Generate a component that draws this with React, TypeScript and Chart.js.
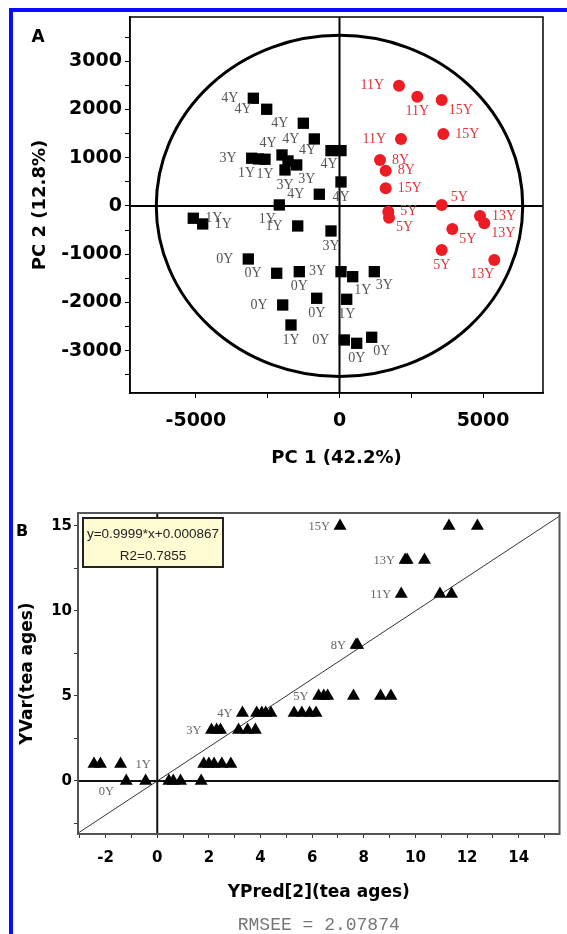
import React, { useEffect, useRef } from "react";
import { Chart, registerables } from "chart.js";

Chart.register(...registerables);

// ---------------- Panel A : PCA score plot ----------------
const pcaBlackPC1 = [-3001, -2535, -1260, -877, -296, 52, 52, -703, -3057, -2820, -2594, -2002, -1793, -1898, -1490, -2096, -5091, -4763, -1455, -296, -3176, -2187, -1400, 52, 460, 1212, -1978, -794, 251, -1689, 167, 599, 1121];
const pcaBlackPC2 = [2234, 2006, 1716, 1390, 1148, 1148, 498, 243, 990, 975, 969, 1058, 934, 747, 851, 21, -255, -373, -415, -519, -1100, -1396, -1363, -1363, -1467, -1363, -2054, -1915, -1936, -2469, -2780, -2849, -2724];
const pcaBlackAge = ["4Y", "4Y", "4Y", "4Y", "4Y", "4Y", "4Y", "4Y", "3Y", "1Y", "1Y", "4Y", "", "3Y", "3Y", "1Y", "1Y", "1Y", "1Y", "3Y", "0Y", "0Y", "0Y", "3Y", "1Y", "3Y", "0Y", "0Y", "1Y", "1Y", "0Y", "0Y", "0Y"];
const pcaBlackSide = ["L", "L", "L", "L", "L", "BL", "B", "L", "L", "BL", "B", "TL", "", "B", "BR", "BL", "R", "R", "L", "B", "L", "L", "B", "L", "BR", "BR", "L", "B", "B", "B", "L", "B", "BR"];

const pcaRedPC1 = [2072, 2709, 3559, 2141, 3614, 1410, 1609, 1609, 3559, 1699, 1724, 4892, 5042, 3928, 3559, 5390];
const pcaRedPC2 = [2496, 2268, 2199, 1390, 1494, 954, 732, 367, 21, -118, -243, -207, -359, -477, -913, -1120];
const pcaRedAge = ["11Y", "11Y", "15Y", "11Y", "15Y", "8Y", "8Y", "15Y", "5Y", "5Y", "5Y", "13Y", "13Y", "5Y", "5Y", "13Y"];
const pcaRedSide = ["L", "B", "RB", "L", "R", "R", "R", "R", "RT", "R", "RB", "R", "RB", "RB", "B", "BL"];

const pcaXRange = [-7295, 7086];
const pcaYRange = [-3880, 3920];
const pcaXTicks = [-5000, -2500, 0, 2500, 5000];
const pcaXTickLabels = [-5000, 0, 5000];
const pcaYTicks = [-3500, -3000, -2500, -2000, -1500, -1000, -500, 0, 500, 1000, 1500, 2000, 2500, 3000, 3500];
const pcaYTickLabels = [-3000, -2000, -1000, 0, 1000, 2000, 3000];
const pcaEllipseRadii = [6380, 3540];

// ---------------- Panel B : PLS predicted vs. measured ----------------
const plsPred = [7.08, 11.3, 12.4, 9.6, 9.68, 10.35, 9.45, 10.95, 11.4, 7.7, 7.76, 6.25, 6.45, 6.6, 7.6, 8.65, 9.05, 3.3, 3.85, 4.05, 4.2, 4.4, 5.3, 5.6, 5.9, 6.15, 2.1, 2.3, 2.45, 3.15, 3.5, 3.8, -2.45, -2.2, -1.42, 1.8, 2.0, 2.2, 2.5, 2.85, -1.2, -0.45, 0.45, 0.62, 0.9, 1.7];
const plsVar = [15, 15, 15, 13, 13, 13, 11, 11, 11, 8, 8, 5, 5, 5, 5, 5, 5, 4, 4, 4, 4, 4, 4, 4, 4, 4, 3, 3, 3, 3, 3, 3, 1, 1, 1, 1, 1, 1, 1, 1, 0, 0, 0, 0, 0, 0];
const plsLabelIndex = [0, 3, 6, 9, 11, 17, 26, 34, 40];
const plsLabelText = ["15Y", "13Y", "11Y", "8Y", "5Y", "4Y", "3Y", "1Y", "0Y"];
const plsLabelSide = ["L", "L", "L", "L", "L", "L", "L", "R", "BL"];

const plsXRange = [-3.07, 15.58];
const plsYRange = [-3.12, 15.76];
const plsXTicks = [-3, -2, -1, 0, 1, 2, 3, 4, 5, 6, 7, 8, 9, 10, 11, 12, 13, 14, 15];
const plsXTickLabels = [-2, 0, 2, 4, 6, 8, 10, 12, 14];
const plsYTicks = [-2.5, 0, 2.5, 5, 7.5, 10, 12.5, 15];
const plsYTickLabels = [0, 5, 10, 15];
const fitSlope = 0.9999;
const fitIntercept = 0.000867;
const fitR2 = 0.7855;
const rmsee = 2.07874;

// ---------------- styling ----------------
const BOLD = "DejaVu Sans";
const SERIF = "'Liberation Serif', 'DejaVu Serif', serif";

const offA: Record<string, [number, number, CanvasTextAlign]> = {
  L: [-15, 0, "right"],
  R: [12, 0, "left"],
  B: [0, 15, "center"],
  BL: [-12, 14, "center"],
  BR: [10, 14, "center"],
  TL: [-14, -12, "center"],
  RB: [7, 10, "left"],
  RT: [9, -8, "left"],
};
const offB: Record<string, [number, number, CanvasTextAlign]> = {
  L: [-10, 1, "right"],
  R: [15, 1, "left"],
  BL: [-20, 11, "center"],
};

const pcaPlugin = {
  id: "pcaDecor",
  beforeDatasetsDraw(chart: any) {
    const { ctx, chartArea: a, scales } = chart;
    const x = scales.x, y = scales.y;
    const cx = x.getPixelForValue(0), cy = y.getPixelForValue(0);
    const rx = x.getPixelForValue(pcaEllipseRadii[0]) - cx;
    const ry = cy - y.getPixelForValue(pcaEllipseRadii[1]);
    ctx.save();
    ctx.strokeStyle = "#000";
    ctx.lineWidth = 3;
    ctx.beginPath();
    ctx.ellipse(cx, cy, rx, ry, 0, 0, Math.PI * 2);
    ctx.stroke();
    ctx.lineWidth = 2;
    ctx.beginPath();
    ctx.moveTo(cx, a.top);
    ctx.lineTo(cx, a.bottom);
    ctx.moveTo(a.left, cy);
    ctx.lineTo(a.right, cy);
    ctx.stroke();
    ctx.lineWidth = 1.5;
    ctx.strokeRect(a.left, a.top, a.right - a.left, a.bottom - a.top);
    ctx.restore();
  },
  afterDatasetsDraw(chart: any) {
    const { ctx } = chart;
    ctx.save();
    ctx.font = `14px ${SERIF}`;
    ctx.textBaseline = "middle";
    const draw = (di: number, texts: string[], sides: string[], color: string) => {
      const meta = chart.getDatasetMeta(di);
      ctx.fillStyle = color;
      texts.forEach((t, i) => {
        if (!t || !sides[i]) return;
        const o = offA[sides[i]];
        const p = meta.data[i];
        ctx.textAlign = o[2];
        ctx.fillText(t, p.x + o[0], p.y + o[1]);
      });
    };
    draw(0, pcaBlackAge, pcaBlackSide, "#555");
    draw(1, pcaRedAge, pcaRedSide, "#e2343c");
    ctx.restore();
  },
  afterDraw(chart: any) {
    const { ctx } = chart;
    ctx.save();
    ctx.fillStyle = "#000";
    ctx.font = `bold 17px ${BOLD}`;
    ctx.textAlign = "center";
    ctx.textBaseline = "middle";
    ctx.fillText("A", 38, 38);
    ctx.restore();
  },
};

const plsPlugin = {
  id: "plsDecor",
  beforeDatasetsDraw(chart: any) {
    const { ctx, chartArea: a, scales } = chart;
    const x = scales.x, y = scales.y;
    const cx = x.getPixelForValue(0), cy = y.getPixelForValue(0);
    ctx.save();
    ctx.beginPath();
    ctx.rect(a.left, a.top, a.right - a.left, a.bottom - a.top);
    ctx.clip();
    ctx.strokeStyle = "#333";
    ctx.lineWidth = 1;
    ctx.beginPath();
    ctx.moveTo(a.left, y.getPixelForValue(fitSlope * plsXRange[0] + fitIntercept));
    ctx.lineTo(a.right, y.getPixelForValue(fitSlope * plsXRange[1] + fitIntercept));
    ctx.stroke();
    ctx.strokeStyle = "#111";
    ctx.lineWidth = 2;
    ctx.beginPath();
    ctx.moveTo(cx, a.top);
    ctx.lineTo(cx, a.bottom);
    ctx.moveTo(a.left, cy);
    ctx.lineTo(a.right, cy);
    ctx.stroke();
    ctx.restore();
    ctx.save();
    ctx.strokeStyle = "#555";
    ctx.lineWidth = 2;
    ctx.strokeRect(a.left, a.top, a.right - a.left, a.bottom - a.top);
    ctx.restore();
  },
  afterDatasetsDraw(chart: any) {
    const { ctx, chartArea: a } = chart;
    ctx.save();
    // point labels
    ctx.font = `12.5px ${SERIF}`;
    ctx.fillStyle = "#666";
    ctx.textBaseline = "middle";
    const meta = chart.getDatasetMeta(0);
    plsLabelIndex.forEach((idx, k) => {
      const p = meta.data[idx];
      const o = offB[plsLabelSide[k]];
      ctx.textAlign = o[2];
      ctx.fillText(plsLabelText[k], p.x + o[0], p.y + o[1]);
    });
    // regression legend box
    const bx = a.left + 5, by = a.top + 5, bw = 140, bh = 49;
    ctx.fillStyle = "#fffbd2";
    ctx.fillRect(bx, by, bw, bh);
    ctx.strokeStyle = "#222";
    ctx.lineWidth = 2;
    ctx.strokeRect(bx, by, bw, bh);
    ctx.fillStyle = "#222";
    ctx.font = "13.5px 'Liberation Sans', Arial, sans-serif";
    ctx.textAlign = "center";
    ctx.fillText(`y=${fitSlope}*x+${fitIntercept}`, bx + bw / 2, by + 16);
    ctx.fillText(`R2=${fitR2}`, bx + bw / 2, by + 38);
    ctx.restore();
  },
  afterDraw(chart: any) {
    const { ctx, chartArea: a } = chart;
    ctx.save();
    ctx.fillStyle = "#000";
    ctx.font = `bold 16px ${BOLD}`;
    ctx.textAlign = "center";
    ctx.textBaseline = "middle";
    ctx.fillText("B", 22, 42);
    ctx.fillStyle = "#777";
    ctx.font = "18px 'Liberation Mono', 'DejaVu Sans Mono', monospace";
    ctx.fillText(`RMSEE = ${rmsee}`, (a.left + a.right) / 2, 435);
    ctx.restore();
  },
};

function tickFont(size: number) {
  return { family: BOLD, weight: "bold" as const, size };
}

function makeConfigA(): any {
  return {
    type: "scatter",
    data: {
      datasets: [
        {
          data: pcaBlackPC1.map((v, i) => ({ x: v, y: pcaBlackPC2[i] })),
          pointStyle: "rect",
          pointRadius: 8,
          backgroundColor: "#000",
          borderColor: "#000",
          borderWidth: 0,
        },
        {
          data: pcaRedPC1.map((v, i) => ({ x: v, y: pcaRedPC2[i] })),
          pointStyle: "circle",
          pointRadius: 6,
          backgroundColor: "#ec1c24",
          borderColor: "#ec1c24",
          borderWidth: 0,
        },
      ],
    },
    options: {
      animation: false,
      responsive: false,
      events: [],
      layout: { padding: { left: 30, right: 24, top: 17, bottom: 0 } },
      plugins: { legend: { display: false }, tooltip: { enabled: false } },
      scales: {
        x: {
          type: "linear",
          min: pcaXRange[0],
          max: pcaXRange[1],
          afterBuildTicks: (s: any) => {
            s.ticks = pcaXTicks.map((v) => ({ value: v }));
          },
          afterFit: (s: any) => {
            s.height = 97;
          },
          ticks: {
            autoSkip: false,
            maxRotation: 0,
            padding: 12,
            color: "#000",
            font: tickFont(19),
            callback: (v: number) => (pcaXTickLabels.includes(v) ? String(v) : ""),
          },
          grid: { drawOnChartArea: false, drawTicks: true, tickLength: 5, color: "#000", lineWidth: 1 },
          border: { display: true, color: "#000", width: 1.5 },
          title: { display: true, text: "PC 1 (42.2%)", color: "#000", font: tickFont(18), padding: { top: 0, bottom: 21 } },
        },
        y: {
          type: "linear",
          min: pcaYRange[0],
          max: pcaYRange[1],
          afterBuildTicks: (s: any) => {
            s.ticks = pcaYTicks.map((v) => ({ value: v }));
          },
          afterFit: (s: any) => {
            s.width = 100;
          },
          ticks: {
            autoSkip: false,
            padding: 3,
            color: "#000",
            font: tickFont(19),
            callback: (v: number) => (pcaYTickLabels.includes(v) ? String(v) : ""),
          },
          grid: { drawOnChartArea: false, drawTicks: true, tickLength: 5, color: "#000", lineWidth: 1 },
          border: { display: true, color: "#000", width: 1.5 },
          title: { display: true, text: "PC 2 (12.8%)", color: "#000", font: tickFont(18), padding: { top: 0, bottom: 0 } },
        },
      },
    },
    plugins: [pcaPlugin],
  };
}

function makeConfigB(): any {
  return {
    type: "scatter",
    data: {
      datasets: [
        {
          data: plsPred.map((v, i) => ({ x: v, y: plsVar[i] })),
          pointStyle: "triangle",
          pointRadius: 7.5,
          backgroundColor: "#000",
          borderColor: "#000",
          borderWidth: 0,
        },
      ],
    },
    options: {
      animation: false,
      responsive: false,
      events: [],
      layout: { padding: { left: 17, right: 4, top: 23, bottom: 0 } },
      plugins: { legend: { display: false }, tooltip: { enabled: false } },
      scales: {
        x: {
          type: "linear",
          min: plsXRange[0],
          max: plsXRange[1],
          afterBuildTicks: (s: any) => {
            s.ticks = plsXTicks.map((v) => ({ value: v }));
          },
          afterFit: (s: any) => {
            s.height = 100;
          },
          ticks: {
            autoSkip: false,
            maxRotation: 0,
            padding: 11,
            color: "#000",
            font: tickFont(15),
            callback: (v: number) => (plsXTickLabels.includes(v) ? String(v) : ""),
          },
          grid: { drawOnChartArea: false, drawTicks: true, tickLength: 4, color: "#333", lineWidth: 1 },
          border: { display: true, color: "#555", width: 2 },
          title: { display: true, text: "YPred[2](tea ages)", color: "#000", font: tickFont(17), padding: { top: 0, bottom: 31 } },
        },
        y: {
          type: "linear",
          min: plsYRange[0],
          max: plsYRange[1],
          afterBuildTicks: (s: any) => {
            s.ticks = plsYTicks.map((v) => ({ value: v }));
          },
          afterFit: (s: any) => {
            s.width = 61;
          },
          ticks: {
            autoSkip: false,
            padding: 2,
            color: "#000",
            font: tickFont(15),
            callback: (v: number) => (plsYTickLabels.includes(v) ? String(v) : ""),
          },
          grid: { drawOnChartArea: false, drawTicks: true, tickLength: 4, color: "#333", lineWidth: 1 },
          border: { display: true, color: "#555", width: 2 },
          title: { display: true, text: "YVar(tea ages)", color: "#000", font: tickFont(17), padding: { top: 0, bottom: 0 } },
        },
      },
    },
    plugins: [plsPlugin],
  };
}

export default function App() {
  const refA = useRef<HTMLCanvasElement>(null);
  const refB = useRef<HTMLCanvasElement>(null);
  useEffect(() => {
    const a = new Chart(refA.current as HTMLCanvasElement, makeConfigA());
    const b = new Chart(refB.current as HTMLCanvasElement, makeConfigB());
    return () => {
      a.destroy();
      b.destroy();
    };
  }, []);
  return (
    <div style={{ position: "absolute", left: 0, top: 0, width: 567, height: 934, background: "#fff", overflow: "hidden" }}>
      <canvas ref={refA} width={567} height={490} style={{ position: "absolute", left: 0, top: 0 }} />
      <canvas ref={refB} width={567} height={444} style={{ position: "absolute", left: 0, top: 490 }} />
      <div
        style={{
          position: "absolute",
          left: 9,
          top: 8,
          width: 572,
          height: 950,
          border: "4px solid #0b0bff",
          boxSizing: "border-box",
          pointerEvents: "none",
        }}
      />
    </div>
  );
}
